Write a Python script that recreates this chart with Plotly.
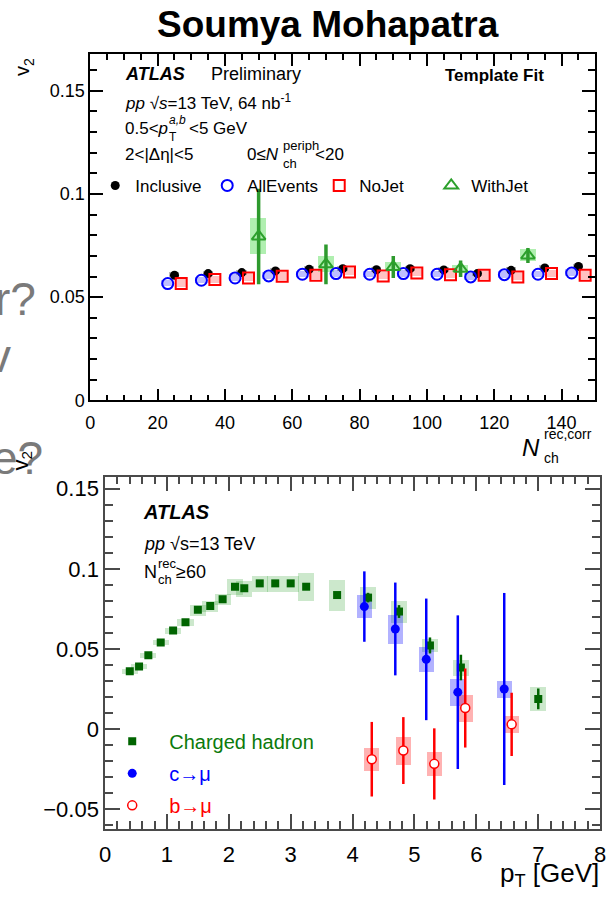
import plotly.graph_objects as go

W, H = 614, 898
FONT = "Liberation Sans, Arial, Helvetica, sans-serif"

# ---------------- upper panel: v2 vs N_ch (template fit) ----------------
nch_incl = [25, 35, 45, 55, 65, 75, 85, 95, 105, 115, 125, 135, 145]
v2_incl = [0.0606, 0.0614, 0.0619, 0.0627, 0.0635, 0.0638, 0.0633, 0.0638,
           0.0632, 0.0614, 0.0630, 0.0641, 0.0649]
stat_incl = [0.0008] * 13
syst_incl = [0.0012] * 13

nch_all = [23, 33, 43, 53, 63, 73, 83, 93, 103, 113, 123, 133, 143]
v2_all = [0.0566, 0.0582, 0.0593, 0.0603, 0.0611, 0.0614, 0.0611, 0.0614,
          0.0611, 0.0598, 0.0609, 0.0611, 0.0617]
syst_all = [0.0016] * 13

nch_nojet = [27, 37, 47, 57, 67, 77, 87, 97, 107, 117, 127, 137, 147]
v2_nojet = [0.0566, 0.0585, 0.0593, 0.0601, 0.0606, 0.0622, 0.0603, 0.0617,
            0.0609, 0.0606, 0.0598, 0.0614, 0.0606]
syst_nojet = [0.0018] * 13

nch_jet = [50, 70, 90, 110, 130]
v2_jet = [0.0794, 0.0659, 0.0646, 0.0638, 0.0702]
stat_jet = [0.0231, 0.0096, 0.0053, 0.0040, 0.0036]
syst_jet = [0.0088, 0.0040, 0.0020, 0.0016, 0.0028]

# ---------------- lower panel: v2 vs pT ----------------
pt_had = [0.4, 0.55, 0.7, 0.9, 1.1, 1.3, 1.5, 1.7, 1.9, 2.1, 2.25, 2.5,
          2.75, 3.0, 3.25, 3.75, 4.25, 4.75, 5.25, 5.75, 7.0]
v2_had = [0.036, 0.039, 0.046, 0.054, 0.0614, 0.0666, 0.0744, 0.0768,
          0.081, 0.0888, 0.0878, 0.0909, 0.0909, 0.0909, 0.0888, 0.0836,
          0.082, 0.0733, 0.0521, 0.0383, 0.0187]
stat_had = [0.0003] * 16 + [0.003, 0.004, 0.005, 0.008, 0.0065]
syst_had = [0.0015, 0.0015, 0.0015, 0.0015, 0.002, 0.002, 0.0035, 0.0035,
            0.0035, 0.005, 0.005, 0.005, 0.005, 0.005, 0.009, 0.0095,
            0.007, 0.007, 0.004, 0.005, 0.0075]

pt_c = [4.19, 4.69, 5.19, 5.70, 6.45]
v2_c = [0.0764, 0.0624, 0.0434, 0.0229, 0.0249]
stat_c = [0.022, 0.029, 0.038, 0.048, 0.060]
syst_c = [0.0072, 0.0092, 0.0077, 0.0083, 0.0052]

pt_b = [4.31, 4.82, 5.32, 5.82, 6.57]
v2_b = [-0.019, -0.0136, -0.0219, 0.013, 0.0028]
stat_b = [0.0233, 0.0209, 0.0222, 0.0247, 0.0198]
syst_b = [0.0074, 0.0089, 0.0074, 0.0082, 0.0054]


def px(x):
    return x / W


def py(y):
    return 1 - y / H


fig = go.Figure()


def syst_boxes(x, y, half, width, color, xa, ya):
    fig.add_trace(go.Bar(
        x=x, y=[2 * h for h in half], base=[v - h for v, h in zip(y, half)],
        width=width, marker=dict(color=color, line=dict(width=0)),
        xaxis=xa, yaxis=ya, showlegend=False, hoverinfo="skip"))


# upper panel systematic boxes
syst_boxes(nch_incl, v2_incl, syst_incl, 3.0, "rgba(60,60,60,0.35)", "x", "y")
syst_boxes(nch_all, v2_all, syst_all, 3.6, "rgba(70,70,255,0.35)", "x", "y")
syst_boxes(nch_nojet, v2_nojet, syst_nojet, 3.6, "rgba(255,80,80,0.35)", "x", "y")
syst_boxes(nch_jet, v2_jet, syst_jet, 4.8, "rgba(80,220,80,0.45)", "x", "y")

fig.add_trace(go.Scatter(
    x=nch_incl, y=v2_incl, mode="markers", name="Inclusive",
    marker=dict(symbol="circle", size=9, color="black"),
    error_y=dict(type="data", array=stat_incl, color="black", thickness=1.5, width=0),
    xaxis="x", yaxis="y", legend="legend"))
fig.add_trace(go.Scatter(
    x=nch_all, y=v2_all, mode="markers", name="AllEvents",
    marker=dict(symbol="circle-open", size=11, color="#0000ff", line=dict(width=2)),
    xaxis="x", yaxis="y", legend="legend"))
fig.add_trace(go.Scatter(
    x=nch_nojet, y=v2_nojet, mode="markers", name="NoJet",
    marker=dict(symbol="square-open", size=11, color="#ff0000", line=dict(width=2)),
    xaxis="x", yaxis="y", legend="legend"))
fig.add_trace(go.Scatter(
    x=nch_jet, y=v2_jet, mode="markers", name="WithJet",
    marker=dict(symbol="triangle-up-open", size=12, color="#2ca02c", line=dict(width=2)),
    error_y=dict(type="data", array=stat_jet, color="#2e9a2e", thickness=3.5, width=0),
    xaxis="x", yaxis="y", legend="legend"))

# lower panel systematic boxes
syst_boxes(pt_had, v2_had, syst_had, 0.26, "rgba(0,140,0,0.2)", "x2", "y2")
syst_boxes(pt_c, v2_c, syst_c, 0.24, "rgba(0,0,255,0.3)", "x2", "y2")
syst_boxes(pt_b, v2_b, syst_b, 0.24, "rgba(255,0,0,0.3)", "x2", "y2")

fig.add_trace(go.Scatter(
    x=pt_had, y=v2_had, mode="markers",
    name='<span style="color:#0b7a0b">Charged hadron</span>',
    marker=dict(symbol="square", size=8, color="#006400"),
    error_y=dict(type="data", array=stat_had, color="#006400", thickness=2.5, width=0),
    xaxis="x2", yaxis="y2", legend="legend2", legendgroup="had"))
fig.add_trace(go.Scatter(
    x=pt_c, y=v2_c, mode="markers",
    name='<span style="color:#0000ff">c→μ</span>',
    marker=dict(symbol="circle", size=9, color="#0000ff"),
    error_y=dict(type="data", array=stat_c, color="#0000ff", thickness=2.5, width=0),
    xaxis="x2", yaxis="y2", legend="legend2", legendgroup="c"))
fig.add_trace(go.Scatter(
    x=pt_b, y=v2_b, mode="markers",
    name='<span style="color:#ff0000">b→μ</span>',
    marker=dict(symbol="circle", size=9, color="white", line=dict(color="#ff0000", width=1.5)),
    error_y=dict(type="data", array=stat_b, color="#ff0000", thickness=2.5, width=0),
    xaxis="x2", yaxis="y2", legend="legend2", legendgroup="b"))


def frame_axis(domain, rng, dtick, minor, color, width, major_len, minor_len,
               size, anchor, standoff=0):
    return dict(
        domain=domain, range=rng, dtick=dtick, tick0=0, anchor=anchor,
        showline=True, mirror="allticks", linecolor=color, linewidth=width,
        ticks="inside", ticklen=major_len, tickwidth=width, tickcolor=color,
        ticklabelstandoff=standoff,
        minor=dict(ticks="inside", dtick=minor, ticklen=minor_len, tickwidth=width,
                   tickcolor=color, showgrid=False),
        showgrid=False, zeroline=False, fixedrange=True,
        tickfont=dict(family=FONT, size=size, color="black"))


fig.update_layout(
    width=W, height=H, autosize=False,
    margin=dict(l=0, r=0, t=0, b=0),
    paper_bgcolor="white", plot_bgcolor="white",
    barmode="overlay", bargap=0,
    font=dict(family=FONT, color="black"),
    xaxis=frame_axis([px(86), px(601)], [0, 150], 20, 5, "black", 1.8, 12, 6, 18, "y", 5),
    yaxis=frame_axis([py(405), py(55)], [0, 0.1675], 0.05, 0.01, "black", 1.8, 13, 7, 18, "x"),
    xaxis2=frame_axis([px(101), px(606)], [0, 8], 1, 0.2, "#4a4a4a", 1.5, 15, 8, 22, "y2", 5),
    yaxis2=frame_axis([py(838), py(482)], [-0.0624, 0.1576], 0.05, 0.01, "#4a4a4a", 1.5, 15, 8, 22, "x2"),
    legend=dict(orientation="h", x=px(91), y=py(188), xanchor="left", yanchor="middle",
                entrywidth=67, entrywidthmode="pixels", itemwidth=30,
                font=dict(family=FONT, size=17), bgcolor="rgba(0,0,0,0)"),
    legend2=dict(orientation="v", x=px(91), y=py(730), xanchor="left", yanchor="top",
                 itemwidth=64, tracegroupgap=3,
                 font=dict(family=FONT, size=20), bgcolor="rgba(0,0,0,0)"),
)


def note(text, x, y, size, xanchor="left", yanchor="middle", color="black", angle=0):
    fig.add_annotation(text=text, x=px(x), y=py(y), xref="paper", yref="paper",
                       xanchor=xanchor, yanchor=yanchor, showarrow=False,
                       textangle=angle,
                       font=dict(family=FONT, size=size, color=color))


def stacked(x, y, sup, sub, size, gap):
    # ROOT-style index: superscript placed directly above the subscript
    note(sup, x, y - gap, size)
    note(sub, x, y + gap, size)


# slide heading
note("<b>Soumya Mohapatra</b>", 328, 25, 37, xanchor="center")

# leftover slide text peeking out behind the figures
note("r?", 33, 302, 46, xanchor="right", color="#7a7a7a")
note("v", 7, 360, 46, xanchor="right", color="#7a7a7a")
note("e?", 40, 463, 46, xanchor="right", color="#7a7a7a")

# upper panel labels
note("<b><i>ATLAS</i></b>", 119, 75, 18)
note("Preliminary", 207, 75, 18)
note("<b>Template Fit</b>", 446, 76, 17)
note("<i>pp</i> √<i>s</i>=13 TeV, 64 nb<sup>-1</sup>", 119, 103, 17)
note("0.5&lt;<i>p</i>", 119, 130, 17)
stacked(164, 130, "<i>a,b</i>", "T", 12, 9)
note("&lt;5 GeV", 185, 130, 17)
note("2&lt;|Δη|&lt;5", 119, 156, 17)
note("0≤<i>N</i>", 244, 156, 17)
stacked(280, 156, "periph", "ch", 13, 9)
note("&lt;20", 313, 156, 17)
note("v<sub>2</sub>", 18, 68, 20, xanchor="center", angle=-90)
note("<i>N</i>", 547, 453, 24, xanchor="right")
stacked(547, 451, "rec,corr", "ch", 14, 12)

# lower panel labels
note("<b><i>ATLAS</i></b>", 138, 518, 20)
note("<i>pp</i> √s=13 TeV", 139, 550, 18)
note("N", 139, 578, 18)
stacked(153, 578, "rec", "ch", 13, 8)
note("≥60", 171, 578, 18)
note("v<sub>2</sub>", 16, 466, 22, xanchor="center", angle=-90)
note("p<sub>T</sub> [GeV]", 607, 884, 26, xanchor="right")

fig.write_html("out.html")
